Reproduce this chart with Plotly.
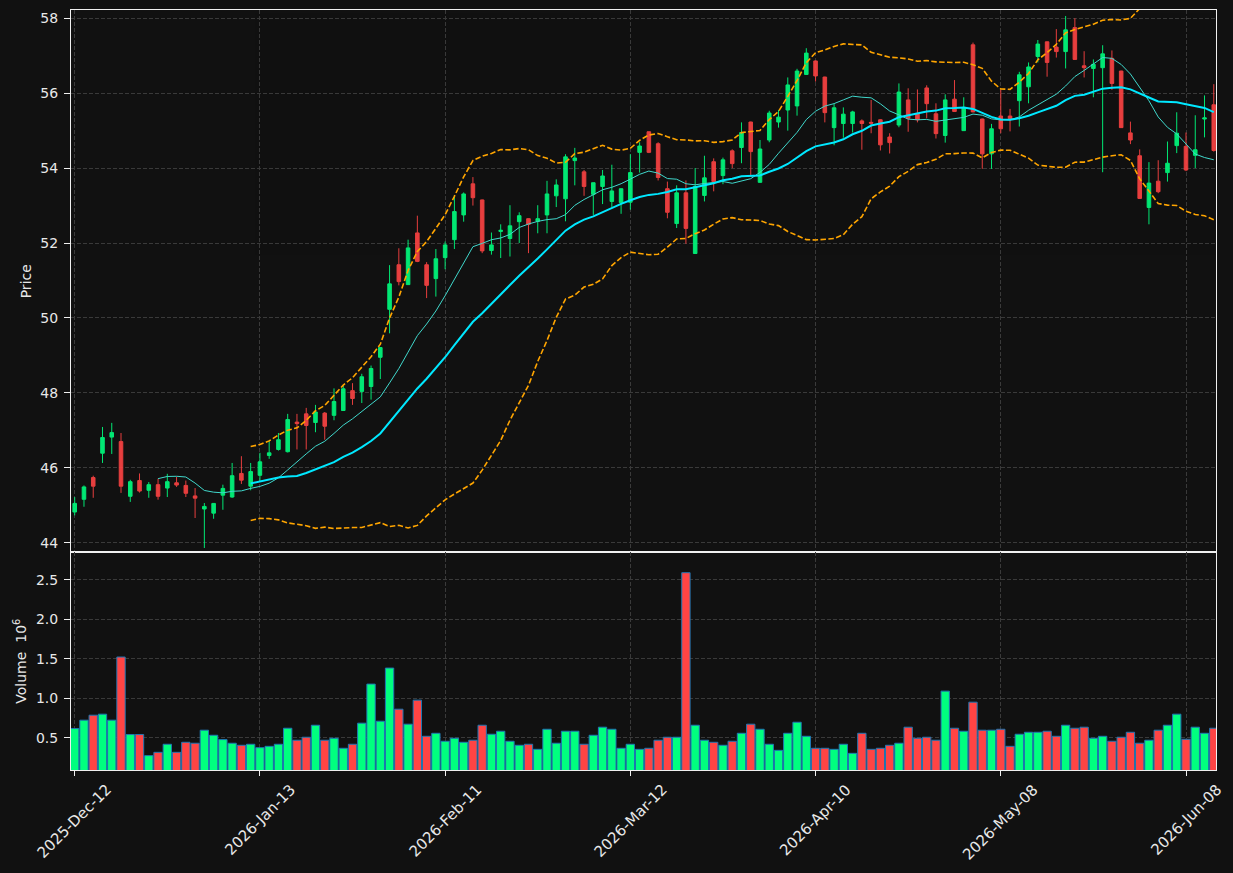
import pandas as pd
import plotly.graph_objects as go
from plotly.subplots import make_subplots

tick_labels = ["2025-Dec-12", "2026-Jan-13", "2026-Feb-11", "2026-Mar-12",
               "2026-Apr-10", "2026-May-08", "2026-Jun-08"]
tick_positions = [0, 20, 40, 60, 80, 100, 120]

opens = [44.82, 45.16, 45.74, 46.39, 46.82, 46.70, 45.24, 45.66, 45.40, 45.55,
         45.46, 45.60, 45.53, 45.25, 44.90, 44.79, 45.27, 45.22, 45.85, 45.51,
         45.80, 46.33, 46.49, 46.43, 47.22, 47.44, 47.21, 47.46, 47.40, 47.53,
         48.06, 48.04, 48.17, 48.95, 50.23, 51.42, 50.89, 52.27, 51.42, 51.05,
         51.61, 52.09, 52.75, 53.58, 53.15, 51.80, 52.31, 52.12, 52.57, 52.65,
         52.58, 52.75, 53.26, 53.18, 54.20, 53.90, 53.30, 53.51, 53.11, 53.08,
         53.09, 54.42, 54.97, 54.65, 53.45, 52.52, 53.34, 51.72, 53.27, 54.17,
         53.80, 54.46, 54.55, 55.23, 53.62, 54.75, 55.23, 55.55, 55.66, 56.50,
         56.86, 56.43, 55.08, 55.19, 55.19, 55.26, 55.22, 55.29, 54.83, 55.15,
         55.82, 55.46, 56.14, 55.45, 54.87, 55.84, 55.00, 57.29, 55.31, 54.38,
         55.39, 55.39, 55.80, 56.17, 56.98, 57.37, 57.23, 57.11, 57.75, 56.73,
         56.66, 56.68, 56.93, 56.59, 54.94, 54.33, 52.95, 53.65, 53.88, 54.60,
         54.58, 54.34, 55.31, 55.69]
highs = [45.22, 45.53, 45.79, 47.09, 47.20, 46.93, 45.68, 45.85, 45.62, 45.71,
         45.84, 45.76, 45.66, 45.46, 45.06, 45.06, 45.55, 46.13, 46.31, 46.13,
         46.40, 46.73, 46.93, 47.44, 47.44, 47.60, 47.68, 47.49, 48.12, 48.19,
         48.26, 48.51, 48.73, 49.21, 51.41, 51.86, 52.09, 52.73, 51.49, 51.84,
         52.04, 53.28, 53.35, 53.76, 53.16, 52.28, 52.50, 53.01, 52.82, 52.66,
         53.01, 53.66, 53.70, 54.37, 54.54, 53.95, 53.61, 53.95, 54.09, 53.45,
         54.37, 54.69, 54.97, 54.69, 53.64, 53.54, 53.67, 54.00, 54.33, 54.26,
         54.28, 54.50, 55.22, 55.24, 54.75, 55.53, 55.55, 56.42, 56.65, 57.20,
         56.87, 56.44, 55.71, 55.62, 55.53, 55.30, 55.82, 55.30, 54.93, 56.26,
         56.13, 56.10, 56.21, 55.73, 55.97, 56.35, 55.89, 57.35, 55.32, 55.18,
         56.09, 55.58, 56.57, 56.82, 57.42, 57.38, 57.71, 58.06, 58.00, 57.12,
         56.90, 57.28, 57.14, 56.60, 55.24, 54.50, 54.16, 54.21, 54.71, 55.49,
         54.95, 55.41, 55.94, 56.24]
lows = [44.73, 44.96, 45.20, 46.13, 46.37, 45.33, 45.09, 45.34, 45.20, 45.15,
        45.22, 45.49, 45.22, 44.66, 43.86, 44.64, 44.88, 45.20, 45.57, 45.40,
        45.64, 46.24, 46.46, 46.41, 46.49, 46.49, 46.95, 46.75, 47.27, 47.52,
        47.68, 47.73, 47.82, 48.37, 49.59, 50.87, 50.88, 51.49, 50.53, 50.57,
        51.30, 51.84, 52.57, 53.00, 51.73, 51.69, 51.60, 51.64, 52.00, 51.73,
        52.26, 52.26, 52.96, 52.58, 53.54, 53.26, 52.75, 53.04, 52.96, 52.78,
        52.89, 53.88, 54.40, 53.67, 52.66, 52.40, 51.98, 51.72, 53.11, 53.38,
        53.57, 54.00, 54.13, 53.78, 53.61, 54.69, 55.08, 55.00, 55.40, 56.49,
        56.31, 55.22, 54.61, 54.81, 54.95, 54.49, 54.93, 54.47, 54.39, 55.09,
        54.97, 55.22, 55.33, 54.79, 54.68, 55.50, 54.99, 55.49, 53.98, 53.98,
        54.93, 54.98, 55.11, 55.73, 56.82, 56.44, 56.95, 56.66, 56.89, 56.42,
        55.89, 53.89, 56.09, 55.07, 54.64, 53.18, 52.50, 53.33, 53.64, 54.40,
        53.92, 54.00, 54.82, 54.44]
closes = [45.05, 45.49, 45.51, 46.81, 46.94, 45.51, 45.63, 45.38, 45.55, 45.24,
          45.63, 45.54, 45.32, 45.19, 44.97, 45.05, 45.45, 45.79, 45.67, 45.90,
          46.16, 46.40, 46.75, 47.29, 47.18, 47.13, 47.49, 47.11, 47.77, 48.11,
          47.85, 48.43, 48.65, 49.21, 50.91, 50.97, 51.87, 51.51, 50.87, 51.58,
          51.95, 52.84, 53.31, 53.21, 51.79, 51.95, 52.34, 52.46, 52.73, 52.50,
          52.65, 53.31, 53.55, 54.30, 54.27, 53.51, 53.61, 53.79, 53.39, 53.45,
          53.88, 54.59, 54.42, 53.75, 52.82, 53.34, 52.39, 53.51, 53.74, 53.64,
          54.22, 54.12, 54.95, 54.44, 54.51, 55.47, 55.36, 56.22, 56.59, 57.07,
          56.46, 55.48, 55.61, 55.44, 55.50, 55.19, 55.20, 54.62, 54.68, 56.03,
          55.33, 55.29, 55.72, 54.92, 55.82, 55.51, 55.62, 55.50, 54.38, 55.05,
          55.05, 55.32, 56.49, 56.70, 57.31, 56.82, 57.11, 57.69, 56.90, 56.68,
          56.77, 57.05, 56.26, 55.08, 54.75, 53.19, 53.60, 53.37, 54.13, 54.93,
          53.95, 54.49, 55.34, 54.47]
volumes_millions = [
    0.615, 0.721, 0.784, 0.797, 0.721, 1.521, 0.539, 0.539, 0.272, 0.314,
    0.416, 0.314, 0.441, 0.429, 0.594, 0.530, 0.475, 0.429, 0.403, 0.416,
    0.373, 0.390, 0.416, 0.619, 0.467, 0.505, 0.657, 0.467, 0.492, 0.365,
    0.416, 0.683, 1.178, 0.708, 1.381, 0.860, 0.670, 0.975, 0.517, 0.555,
    0.454, 0.492, 0.441, 0.467, 0.657, 0.543, 0.581, 0.454, 0.403, 0.416,
    0.352, 0.606, 0.429, 0.581, 0.581, 0.416, 0.530, 0.632, 0.606, 0.365,
    0.416, 0.352, 0.365, 0.467, 0.505, 0.505, 2.589, 0.657, 0.467, 0.441,
    0.403, 0.454, 0.555, 0.670, 0.606, 0.416, 0.339, 0.555, 0.695, 0.517,
    0.365, 0.365, 0.352, 0.416, 0.301, 0.555, 0.352, 0.365, 0.403, 0.429,
    0.632, 0.492, 0.505, 0.467, 1.089, 0.619, 0.581, 0.949, 0.594, 0.594,
    0.606, 0.390, 0.543, 0.568, 0.568, 0.581, 0.517, 0.657, 0.619, 0.632,
    0.492, 0.517, 0.454, 0.505, 0.568, 0.429, 0.467, 0.594, 0.657, 0.797,
    0.479, 0.632, 0.555, 0.619]

BG = "#111111"
UP = "#00ff7f"
DOWN = "#ff4444"
TXT = "#e8e8e8"
GRID = "#3a3a3a"

x = list(range(len(closes)))
close_s = pd.Series(closes)
ma10 = close_s.rolling(10).mean()
ma20 = close_s.rolling(20).mean()
sd20 = close_s.rolling(20).std(ddof=0)
bb_up = ma20 + 2 * sd20
bb_lo = ma20 - 2 * sd20

vol_colors = [UP if c >= o else DOWN for o, c in zip(opens, closes)]

fig = make_subplots(rows=2, cols=1, shared_xaxes=True, vertical_spacing=0,
                    row_heights=[0.7138, 0.2862])

fig.add_trace(go.Candlestick(
    x=x, open=opens, high=highs, low=lows, close=closes,
    increasing=dict(line=dict(color=UP, width=1), fillcolor=UP),
    decreasing=dict(line=dict(color=DOWN, width=1), fillcolor=DOWN),
    opacity=0.9, whiskerwidth=0, showlegend=False, hoverinfo="skip"),
    row=1, col=1)

fig.add_trace(go.Scatter(x=x, y=bb_up, mode="lines",
                         line=dict(color="#ffa500", width=1.6, dash="5.5px,2.4px"),
                         showlegend=False, hoverinfo="skip"), row=1, col=1)
fig.add_trace(go.Scatter(x=x, y=bb_lo, mode="lines",
                         line=dict(color="#ffa500", width=1.6, dash="5.5px,2.4px"),
                         showlegend=False, hoverinfo="skip"), row=1, col=1)
fig.add_trace(go.Scatter(x=x, y=ma10, mode="lines",
                         line=dict(color="#40d8cc", width=1),
                         showlegend=False, hoverinfo="skip"), row=1, col=1)
fig.add_trace(go.Scatter(x=x, y=ma20, mode="lines",
                         line=dict(color="#00e8ff", width=2),
                         showlegend=False, hoverinfo="skip"), row=1, col=1)

fig.add_trace(go.Bar(x=x, y=volumes_millions, marker=dict(
    color=vol_colors, line=dict(color="#1f77b4", width=1)),
    showlegend=False, hoverinfo="skip"), row=2, col=1)

axis_common = dict(showline=True, mirror=True, linecolor="#f0f0f0", linewidth=1,
                   showgrid=True, gridcolor=GRID, gridwidth=1, griddash="4px,2px",
                   zeroline=False, ticks="outside", tickcolor="#f0f0f0",
                   tickfont=dict(color=TXT, size=14))

fig.update_xaxes(**axis_common)
fig.update_yaxes(**axis_common)

fig.update_xaxes(range=[-0.4, 123.24], tickvals=tick_positions,
                 showticklabels=False, ticklen=5,
                 rangeslider=dict(visible=False))
fig.update_xaxes(ticks="", row=1, col=1)

fig.update_yaxes(ticklen=6, ticklabelstandoff=3)
fig.update_yaxes(range=[43.74, 58.22], tickvals=[44, 46, 48, 50, 52, 54, 56, 58],
                 title=dict(text="Price", font=dict(color=TXT, size=14), standoff=5),
                 row=1, col=1)
fig.update_yaxes(range=[0.09, 2.845], tickvals=[0.5, 1.0, 1.5, 2.0, 2.5],
                 tickformat=".1f",
                 title=dict(text="Volume  10<sup>6</sup>", font=dict(color=TXT, size=14),
                            standoff=6),
                 row=2, col=1)

# x tick labels rotated 45 degrees and centred under their ticks
for pos, lab in zip(tick_positions, tick_labels):
    fig.add_annotation(x=pos, xref="x2", y=0, yref="paper", text=lab,
                       textangle=-45, showarrow=False, xanchor="center",
                       yanchor="top", yshift=-8,
                       font=dict(color=TXT, size=15, family="DejaVu Sans"))

fig.update_layout(
    width=1233, height=873,
    margin=dict(l=71, r=17, t=10, b=103),
    paper_bgcolor=BG, plot_bgcolor=BG,
    font=dict(family="DejaVu Sans", color=TXT, size=14),
    boxgap=0.45, bargap=0.1,
    hovermode=False,
)

fig.write_html("out.html")
